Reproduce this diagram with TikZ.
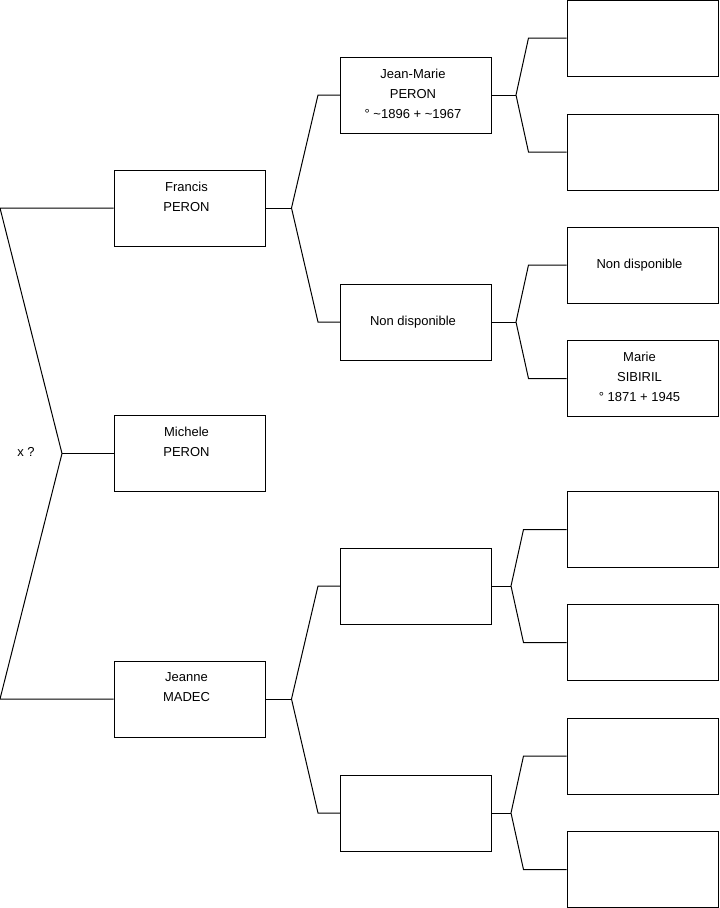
\documentclass[tikz,border=0pt]{standalone}
\usepackage{fontspec}
\setmainfont{Liberation Sans}
\usetikzlibrary{calc}

\tikzset{
  pbox/.style={draw, line width=0.75pt, minimum width=113.25pt, minimum height=57pt, inner sep=0pt},
  ptext/.style={anchor=north, align=center, inner sep=0pt, xshift=-2.25pt, yshift=-9.2pt},
  pmid/.style={inner sep=0pt, xshift=-2.25pt, yshift=0pt},
  link/.style={line width=0.75pt},
}

\begin{document}
\begin{tikzpicture}[x=0.75pt,y=-0.75pt,font=\fontsize{9.75}{15}\selectfont]
  \path[use as bounding box] (0,0) rectangle (719,908);
  % first generation
  \node[pbox] (francis) at (189.5,208) {};
  \node[ptext] (francis-t) at (francis.north) {Francis\\PERON};
  \node[pbox] (michele) at (189.5,453.5) {};
  \node[ptext] (michele-t) at (michele.north) {Michele\\PERON};
  \node[pbox] (jeanne) at (189.5,699) {};
  \node[ptext] (jeanne-t) at (jeanne.north) {Jeanne\\MADEC};
  % second generation
  \node[pbox] (jeanmarie) at (416,95) {};
  \node[ptext] (jeanmarie-t) at (jeanmarie.north) {Jean-Marie\\PERON\\° \textasciitilde1896 + \textasciitilde1967};
  \node[pbox] (nd) at (416,322) {};
  \node[pmid] (nd-t) at (nd.center) {Non disponible};
  \node[pbox] (g2c) at (416,586) {};
  \node[pbox] (g2d) at (416,813) {};
  % third generation
  \node[pbox] (a1) at (642.5,38) {};
  \node[pbox] (a2) at (642.5,152) {};
  \node[pbox] (a3) at (642.5,265) {};
  \node[pmid] (a3-t) at (a3.center) {Non disponible};
  \node[pbox] (a4) at (642.5,378.5) {};
  \node[ptext] (a4-t) at (a4.north) {Marie\\SIBIRIL\\° 1871 + 1945};
  \node[pbox] (a5) at (642.5,529.5) {};
  \node[pbox] (a6) at (642.5,642.5) {};
  \node[pbox] (a7) at (642.5,756) {};
  \node[pbox] (a8) at (642.5,869.5) {};

  % couple bracket
  \coordinate (lt) at (0,208);
  \coordinate (lm) at (62,453.5);
  \coordinate (lb) at (0,699);
  \node (xq) at (26,452) {x ?};
  \draw[link] (francis.west) -- (lt) -- (lm) -- (lb) -- (jeanne.west);
  \draw[link] (lm) -- (michele.west);

  % parents
  \draw[link] (francis.east) -- ++(26,0) coordinate (fv);
  \draw[link] (jeanmarie.west) -- ++(-22,0) -- (fv) -- ($(nd.west)+(-22,0)$) -- (nd.west);
  \draw[link] (jeanne.east) -- ++(26,0) coordinate (jv);
  \draw[link] (g2c.west) -- ++(-22,0) -- (jv) -- ($(g2d.west)+(-22,0)$) -- (g2d.west);

  % grandparents
  \draw[link] (jeanmarie.east) -- ++(24,0) coordinate (v1);
  \draw[link] (a1.west) -- ++(-38,0) -- (v1) -- ($(a2.west)+(-38,0)$) -- (a2.west);
  \draw[link] (nd.east) -- ++(24,0) coordinate (v2);
  \draw[link] (a3.west) -- ++(-38,0) -- (v2) -- ($(a4.west)+(-38,0)$) -- (a4.west);
  \draw[link] (g2c.east) -- ++(19,0) coordinate (v3);
  \draw[link] (a5.west) -- ++(-43,0) -- (v3) -- ($(a6.west)+(-43,0)$) -- (a6.west);
  \draw[link] (g2d.east) -- ++(19,0) coordinate (v4);
  \draw[link] (a7.west) -- ++(-43,0) -- (v4) -- ($(a8.west)+(-43,0)$) -- (a8.west);
\end{tikzpicture}
\end{document}
